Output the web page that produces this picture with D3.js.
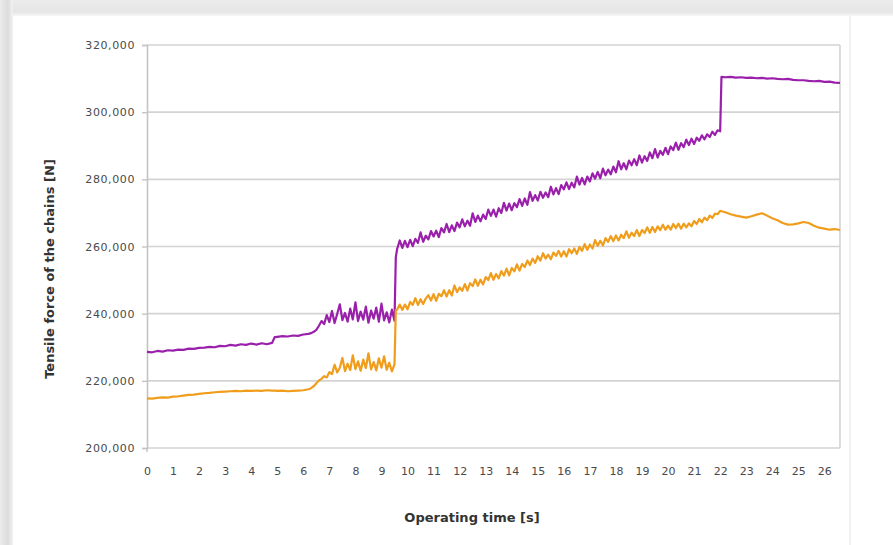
<!DOCTYPE html>
<html>
<head>
<meta charset="utf-8">
<script src="https://cdn.jsdelivr.net/npm/d3@7"></script>
<style>
  html, body { margin: 0; padding: 0; background: #ffffff; }
  svg { display: block; }
</style>
</head>
<body>
<svg id="chart" width="893" height="545"></svg>
<script>
// Operating time [s]
const timeS = [
  0, 0.2, 0.4, 0.6, 0.8, 1.0, 1.2, 1.4, 1.6, 1.8, 2.0, 2.2, 2.4, 2.6, 2.8, 3.0,
  3.2, 3.4, 3.6, 3.8, 4.0, 4.2, 4.4, 4.6, 4.8, 4.9, 5.0, 5.2, 5.4, 5.6, 5.8, 6.0, 6.2,
  6.3, 6.4, 6.5, 6.6, 6.7, 6.8, 6.9, 7.0, 7.1, 7.2, 7.3, 7.4, 7.5, 7.6, 7.7, 7.8, 7.9,
  8.0, 8.1, 8.2, 8.3, 8.4, 8.5, 8.6, 8.7, 8.8, 8.9, 9.0, 9.1, 9.2, 9.3, 9.4, 9.5, 9.55,
  9.6, 9.7, 9.8, 9.9, 10.0, 10.1, 10.2, 10.3, 10.4, 10.5, 10.6, 10.7, 10.8, 10.9,
  11.0, 11.1, 11.2, 11.3, 11.4, 11.5, 11.6, 11.7, 11.8, 11.9,
  12.0, 12.1, 12.2, 12.3, 12.4, 12.5, 12.6, 12.7, 12.8, 12.9,
  13.0, 13.1, 13.2, 13.3, 13.4, 13.5, 13.6, 13.7, 13.8, 13.9,
  14.0, 14.1, 14.2, 14.3, 14.4, 14.5, 14.6, 14.7, 14.8, 14.9,
  15.0, 15.1, 15.2, 15.3, 15.4, 15.5, 15.6, 15.7, 15.8, 15.9,
  16.0, 16.1, 16.2, 16.3, 16.4, 16.5, 16.6, 16.7, 16.8, 16.9,
  17.0, 17.1, 17.2, 17.3, 17.4, 17.5, 17.6, 17.7, 17.8, 17.9,
  18.0, 18.1, 18.2, 18.3, 18.4, 18.5, 18.6, 18.7, 18.8, 18.9,
  19.0, 19.1, 19.2, 19.3, 19.4, 19.5, 19.6, 19.7, 19.8, 19.9,
  20.0, 20.1, 20.2, 20.3, 20.4, 20.5, 20.6, 20.7, 20.8, 20.9,
  21.0, 21.1, 21.2, 21.3, 21.4, 21.5, 21.6, 21.7, 21.8, 21.9, 22.0, 22.05,
  22.2, 22.4, 22.6, 22.8, 23.0, 23.2, 23.4, 23.6, 23.8, 24.0, 24.2, 24.4,
  24.6, 24.8, 25.0, 25.2, 25.4, 25.6, 25.8, 26.0, 26.2, 26.4, 26.6
];

// Tensile force, upper chain [N]
const forcePurple = [
  228600, 228500, 228900, 228700, 229100, 229000, 229300, 229200, 229600, 229500, 229800, 229900,
  230100, 230000, 230400, 230300, 230700, 230500, 230900, 230700, 231100, 230800, 231200, 230900,
  231300, 233000, 233100, 233300, 233200, 233500, 233400, 233800, 234000,
  234200, 234600, 235200, 236400, 237800, 236900, 239600, 237500, 240800, 237200, 239900, 242800,
  238100, 240200, 237600, 241500, 238300, 243400, 237800, 240600, 238200, 242100, 237300, 240900,
  238500, 241800, 237600, 243000, 238000, 240400, 237400, 241200, 237900, 256800,
  259200, 261800, 259600, 261700, 259800, 262000, 260100, 262300, 261100, 264200,
  261400, 263200, 262100, 264600, 263000, 264700, 262800, 265500, 264200, 266700,
  264300, 266300, 264600, 267100, 265700, 268100, 266000, 267700, 266200, 269900,
  267300, 269200, 267500, 269500, 268200, 271000, 269100, 271000, 268900, 271400,
  270000, 273000, 270700, 272800, 270800, 272900, 271700, 274100, 272100, 274300,
  272400, 276200, 273600, 275300, 273700, 276300, 274500, 276100, 274700, 277800,
  275500, 277400, 275600, 278300, 277000, 279100, 277100, 279000, 277600, 280800,
  278400, 280400, 278500, 280800, 279400, 281800, 280200, 282200, 280300, 283200,
  281200, 282900, 281500, 283800, 282100, 285400, 283000, 284800, 283000, 285600,
  284200, 286000, 284200, 287100, 285000, 286900, 285500, 288000, 286300, 289000,
  286500, 288500, 287300, 289400, 287500, 289800, 288700, 290900, 288800, 290800,
  289600, 291800, 290200, 292100, 290500, 292400, 291500, 293100, 291900, 293400,
  292600, 294200, 293200, 294600, 294300, 310500,
  310400, 310500, 310300, 310400, 310200, 310300, 310100, 310200, 310000, 310100, 309900, 309800,
  309900, 309600, 309500, 309500, 309300, 309200, 309300, 309000, 309100, 308800, 308700
];

// Tensile force, lower chain [N]
const forceOrange = [
  214800, 214700, 214900, 215100, 215000, 215300, 215400, 215600, 215800, 215900, 216100, 216300,
  216400, 216600, 216700, 216800, 216900, 217000, 216900, 217100, 217000, 217100, 217000, 217200,
  217100, 217100, 217000, 217100, 216900, 217000, 217100, 217200, 217500,
  217800, 218400, 219300, 220100, 220600, 221400, 221000, 222600, 222000, 224800, 222500, 223900,
  226800, 222900, 225100, 223200, 227600, 223500, 225800, 223000, 226300, 223800, 228200, 223400,
  225600, 223100, 226700, 223900, 227300, 223300, 225400, 222800, 224900, 241000,
  241200, 242700, 241100, 242700, 241300, 243500, 242600, 244600, 242600, 244300,
  242900, 244500, 245500, 243900, 245800, 243800, 245900, 245200, 247000, 245100,
  247000, 245400, 248400, 246400, 247800, 246800, 248800, 246900, 249100, 248200,
  250200, 248300, 250100, 248700, 250900, 250000, 252100, 250100, 251800, 250500,
  252700, 251300, 253400, 251400, 253600, 252600, 254700, 252800, 254800, 253900,
  255800, 254500, 256400, 255100, 257100, 255800, 258000, 256400, 257600, 256200,
  258200, 257200, 258700, 257000, 258600, 257000, 259200, 258000, 259400, 257800,
  259900, 258700, 260700, 259000, 260600, 259400, 261900, 260200, 261700, 260300,
  262500, 261400, 263100, 261600, 263300, 261800, 263500, 262500, 264500, 262600,
  264100, 263100, 264900, 263100, 264900, 264000, 265700, 264100, 265800, 264300,
  266000, 264900, 266500, 265000, 266200, 265000, 266700, 265500, 266800, 265300,
  266800, 265700, 266900, 266000, 267600, 266700, 268200, 267200, 268600, 267800,
  269200, 268500, 269800, 269600, 270600, 270500,
  270200, 269600, 269200, 268900, 268600, 269000, 269500, 269900, 269200, 268400, 267800, 267000,
  266500, 266600, 266900, 267300, 267000, 266200, 265600, 265300, 265000, 265200, 264900
];

const seriesList = [
  { name: "upper", values: forcePurple, color: "#9a20ac" },
  { name: "lower", values: forceOrange, color: "#f09d1c" }
];

const yTickValues = [200000, 220000, 240000, 260000, 280000, 300000, 320000];
const xTickValues = d3.range(0, 27);

const W = 893, H = 545;
const plot = { left: 147, right: 840, top: 45, bottom: 448 };

const svg = d3.select("#chart");

// page frame: soft grey bands along the top and left edges
const defs = svg.append("defs");
const gTop = defs.append("linearGradient").attr("id", "topBand").attr("x1", 0).attr("y1", 0).attr("x2", 0).attr("y2", 1);
gTop.append("stop").attr("offset", "0%").attr("stop-color", "#ececec");
gTop.append("stop").attr("offset", "75%").attr("stop-color", "#e6e6e6");
gTop.append("stop").attr("offset", "100%").attr("stop-color", "#f6f6f6");
const gLeft = defs.append("linearGradient").attr("id", "leftBand").attr("x1", 0).attr("y1", 0).attr("x2", 1).attr("y2", 0);
gLeft.append("stop").attr("offset", "0%").attr("stop-color", "#ececec");
gLeft.append("stop").attr("offset", "60%").attr("stop-color", "#dcdcdc");
gLeft.append("stop").attr("offset", "100%").attr("stop-color", "#f2f2f2");

svg.append("rect").attr("x", 0).attr("y", 0).attr("width", W).attr("height", H).attr("fill", "#ffffff");
svg.append("rect").attr("x", 0).attr("y", 0).attr("width", W).attr("height", 16).attr("fill", "url(#topBand)");
svg.append("rect").attr("x", 0).attr("y", 0).attr("width", 13).attr("height", H).attr("fill", "url(#leftBand)");
svg.append("line").attr("x1", 850).attr("x2", 850).attr("y1", 16).attr("y2", H)
  .attr("stroke", "#ececec").attr("stroke-width", 1.5);

const x = d3.scaleLinear().domain([0, 26.6]).range([plot.left, plot.right]);
const y = d3.scaleLinear().domain([200000, 320000]).range([plot.bottom, plot.top]);

// horizontal grid lines
svg.append("g")
  .selectAll("line")
  .data(yTickValues)
  .join("line")
  .attr("x1", plot.left).attr("x2", plot.right)
  .attr("y1", d => y(d)).attr("y2", d => y(d))
  .attr("stroke", "#d3d3d3").attr("stroke-width", 1.6);

// right border of the plot area
svg.append("line")
  .attr("x1", plot.right).attr("x2", plot.right)
  .attr("y1", plot.top).attr("y2", plot.bottom)
  .attr("stroke", "#d3d3d3").attr("stroke-width", 1.6);

// y axis
const yAxis = svg.append("g")
  .attr("transform", `translate(${plot.left},0)`)
  .call(d3.axisLeft(y).tickValues(yTickValues).tickFormat(d3.format(",")).tickSize(5).tickPadding(7));
yAxis.select(".domain").attr("stroke", "#c4c4c4").attr("stroke-width", 1.6);
yAxis.selectAll(".tick line").attr("stroke", "#c4c4c4").attr("stroke-width", 1.4);
yAxis.selectAll(".tick text")
  .attr("fill", "#4a4a4a")
  .style("font-family", "'DejaVu Sans', sans-serif")
  .style("font-size", "11px")
  .style("letter-spacing", "0.6px");

// x axis
const xAxis = svg.append("g")
  .attr("transform", `translate(0,${plot.bottom})`)
  .call(d3.axisBottom(x).tickValues(xTickValues).tickFormat(d3.format("d")).tickSize(0).tickPadding(19));
xAxis.select(".domain").remove();
xAxis.selectAll(".tick text")
  .attr("fill", "#4a4a4a")
  .style("font-family", "'DejaVu Sans', sans-serif")
  .style("font-size", "11px");
svg.append("line")
  .attr("x1", plot.left).attr("x2", plot.left)
  .attr("y1", plot.bottom).attr("y2", plot.bottom + 4)
  .attr("stroke", "#c4c4c4").attr("stroke-width", 1.4);

// force curves
const line = d3.line()
  .x((d, i) => x(timeS[i]))
  .y(d => y(d));

svg.append("g")
  .selectAll("path")
  .data(seriesList)
  .join("path")
  .attr("d", s => line(s.values))
  .attr("fill", "none")
  .attr("stroke", s => s.color)
  .attr("stroke-width", 2.2)
  .attr("stroke-linejoin", "round");

// axis titles
svg.append("text")
  .attr("x", 472).attr("y", 522)
  .attr("text-anchor", "middle")
  .attr("fill", "#333333")
  .style("font-family", "'DejaVu Sans', sans-serif")
  .style("font-size", "13px")
  .style("font-weight", "bold")
  .text("Operating time [s]");

svg.append("text")
  .attr("transform", "translate(54,269) rotate(-90)")
  .attr("text-anchor", "middle")
  .attr("fill", "#333333")
  .style("font-family", "'DejaVu Sans', sans-serif")
  .style("font-size", "13px")
  .style("font-weight", "bold")
  .text("Tensile force of the chains [N]");
</script>
</body>
</html>
